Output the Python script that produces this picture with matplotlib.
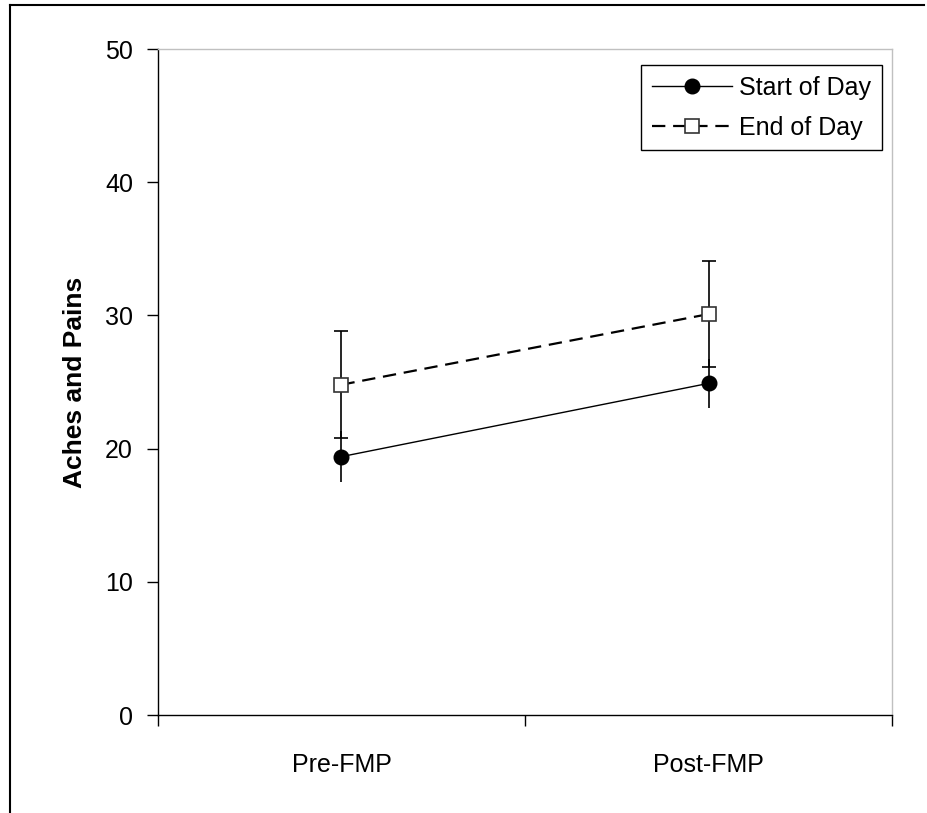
import matplotlib.pyplot as plt
from matplotlib.lines import Line2D

plt.rcParams['font.family'] = ['Liberation Sans', 'DejaVu Sans']

# ── Data ─────────────────────────────────────────────────────────────────────
categories = ["Pre-FMP", "Post-FMP"]
start_of_day = [19.4, 24.9]
start_err = [1.9, 1.85]
end_of_day = [24.8, 30.1]
end_err = [4.0, 3.95]
y_ticks = [0, 10, 20, 30, 40, 50]

FS = 18

fig = plt.figure(figsize=(9.27, 8.13), dpi=100)
ax = fig.add_axes([0.1704, 0.1205, 0.7919, 0.8192])

x = [0.5, 1.5]

ax.errorbar(x, start_of_day, yerr=start_err, fmt='none', ecolor='black',
            elinewidth=1.2, capsize=0, zorder=2)
ax.errorbar(x, end_of_day, yerr=end_err, fmt='none', ecolor='black',
            elinewidth=1.2, capsize=5, capthick=1.2, zorder=2)

ax.plot(x, start_of_day, '-', color='black', linewidth=1.0, marker='o',
        markersize=10.5, markerfacecolor='black', markeredgecolor='black',
        label='Start of Day', zorder=3)
ax.plot(x, end_of_day, linestyle=(0, (6, 3.5)), color='black', linewidth=1.6,
        marker='s', markersize=10, markerfacecolor='white',
        markeredgecolor='#333333', markeredgewidth=1.2,
        label='End of Day', zorder=3)

ax.set_xlim(0, 2)
ax.set_ylim(0, 50)
ax.set_yticks(y_ticks)
ax.set_yticklabels([str(v) for v in y_ticks], fontsize=FS)
ax.set_xticks([0, 1, 2])
ax.set_xticklabels([])
ax.set_xticks(x, minor=True)
ax.set_xticklabels(categories, minor=True, fontsize=FS)
ax.tick_params(axis='x', which='minor', length=0, pad=27)
ax.tick_params(axis='x', which='major', direction='out', length=8, width=1)
ax.tick_params(axis='y', direction='out', length=8, width=1, pad=10)

ax.set_ylabel("Aches and Pains", fontsize=19, fontweight='bold', labelpad=13)

for side in ['top', 'right']:
    ax.spines[side].set_color('#c0c0c0')
    ax.spines[side].set_linewidth(1)
for side in ['left', 'bottom']:
    ax.spines[side].set_color('black')
    ax.spines[side].set_linewidth(1)

leg = ax.legend(loc='upper right', bbox_to_anchor=(0.986, 0.976),
                fontsize=FS, frameon=True, fancybox=False, framealpha=1,
                edgecolor='black', handlelength=3.2, borderaxespad=0,
                handletextpad=0.3, labelspacing=0.65, borderpad=0.42)
leg.get_frame().set_linewidth(1)

# outer chart frame (left and top edges)
fig.add_artist(Line2D([10 / 927, 10 / 927], [0, 1 - 5 / 813], color='black',
                      linewidth=1.5, transform=fig.transFigure))
fig.add_artist(Line2D([10 / 927, 924 / 927], [1 - 5 / 813, 1 - 5 / 813],
                      color='black', linewidth=1.5, transform=fig.transFigure))

fig.savefig("out.png", dpi=100)
